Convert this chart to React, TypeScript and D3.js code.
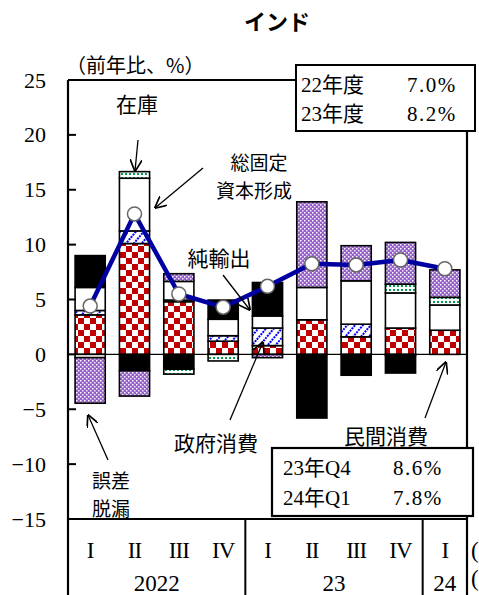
import React from "react";
import * as d3 from "d3";

const categories = ["2022Q1", "2022Q2", "2022Q3", "2022Q4", "2023Q1", "2023Q2", "2023Q3", "2023Q4", "2024Q1"];
const quarterLabels = ["I", "II", "III", "IV", "I", "II", "III", "IV", "I"];
const yearLabels = ["2022", "23", "24"];
const yearSpans = [4, 4, 1];
const yTicks = [25, 20, 15, 10, 5, 0, -5, -10, -15];

// contributions (% pt)
const privateCons = [3.6, 10.1, 4.8, 1.2, 0.8, 3.15, 1.6, 2.4, 2.2];
const govCons = [0.4, 1.15, 0.15, 0.5, 1.6, 0.0, 1.15, -0.1, 0.0];
const gfcf = [2.1, 4.8, 1.7, 1.5, 1.1, 2.95, 3.95, 3.2, 2.3];
const inventory = [-0.3, 0.6, -0.45, -0.6, 0, 0, 0, 0.8, 0.7];
const discrepancy = [-4.15, -2.3, 0.7, 0, -0.3, 7.8, 3.2, 3.8, 2.5];
const netExports = [2.9, -1.5, -1.35, 1.75, 3.05, -5.8, -1.9, -1.6, 0];
const gdp = [4.4, 12.8, 5.5, 4.3, 6.2, 8.25, 8.15, 8.6, 7.8];

const seriesNames = ["民間消費", "政府消費", "総固定資本形成", "在庫", "誤差脱漏", "純輸出"];
const seriesValues = [privateCons, govCons, gfcf, inventory, discrepancy, netExports];
const seriesFills = ["url(#pCheck)", "url(#pHatch)", "#ffffff", "url(#pDots)", "url(#pPurple)", "#000000"];
const posOrder = [0, 1, 2, 3, 4, 5];
const negOrder = [0, 1, 2, 5, 3, 4];

const W = 479, H = 595;
const L = 68, R = 467, T = 80, B = 519;

const serif = "'Liberation Serif', 'Noto Sans CJK JP', serif";
const jp = "'Noto Sans CJK JP', sans-serif";

export default function App() {
  const x = d3.scaleBand<string>().domain(categories).range([L, R]).paddingInner(0.32).paddingOuter(0.16);
  const y = d3.scaleLinear().domain([-15, 25]).range([B, T]);
  const bw = x.bandwidth();

  const segs: { key: string; x: number; y0: number; y1: number; fill: string }[] = [];
  categories.forEach((c, i) => {
    let pos = 0;
    posOrder.forEach((s) => {
      const v = seriesValues[s][i];
      if (v > 0) {
        segs.push({ key: `${c}-${s}`, x: x(c)!, y0: pos, y1: pos + v, fill: seriesFills[s] });
        pos += v;
      }
    });
    let neg = 0;
    negOrder.forEach((s) => {
      const v = seriesValues[s][i];
      if (v < 0) {
        segs.push({ key: `${c}-${s}`, x: x(c)!, y0: neg, y1: neg + v, fill: seriesFills[s] });
        neg += v;
      }
    });
  });

  const line = d3
    .line<number>()
    .x((_, i) => x(categories[i])! + bw / 2)
    .y((d) => y(d));

  const step = x.step();
  let acc = 0;
  const yearBounds = yearSpans.map((n) => {
    const s = acc;
    acc += n;
    return [L + s * step, L + acc * step];
  });

  const arrows = [
    [138, 140, 135, 171],
    [203, 168, 155, 208],
    [223, 275, 250, 310],
    [230, 420, 263, 342],
    [108, 460, 88, 415],
    [425, 418, 446, 362],
  ];

  return (
    <div style={{ position: "absolute", left: 0, top: 0 }}>
      <svg width={W} height={H} style={{ display: "block", background: "#fff" }}>
        <defs>
          <pattern id="pCheck" width="12" height="12" patternUnits="userSpaceOnUse">
            <rect width="12" height="12" fill="#fff" />
            <rect x="0" y="0" width="6" height="6" fill="#c00000" />
            <rect x="6" y="6" width="6" height="6" fill="#c00000" />
          </pattern>
          <pattern id="pHatch" width="6" height="6" patternUnits="userSpaceOnUse" patternTransform="rotate(40)">
            <rect width="6" height="6" fill="#fff" />
            <line x1="1" y1="0" x2="1" y2="6" stroke="#0000ff" strokeWidth="2" strokeDasharray="2 1" />
          </pattern>
          <pattern id="pDots" width="4" height="4" patternUnits="userSpaceOnUse">
            <rect width="4" height="4" fill="#fff" />
            <rect x="1" y="1" width="2" height="2" fill="#00a050" />
          </pattern>
          <pattern id="pPurple" width="4" height="4" patternUnits="userSpaceOnUse">
            <rect width="4" height="4" fill="#9460c8" />
            <rect x="0" y="0" width="1.5" height="1.5" fill="#fff" />
            <rect x="2" y="2" width="1.5" height="1.5" fill="#f2e8fa" />
          </pattern>
          <marker id="arr" viewBox="0 0 10 10" refX="9.5" refY="5" markerWidth="12" markerHeight="12" markerUnits="userSpaceOnUse" orient="auto">
            <path d="M0,0 L10,5 L0,10" fill="none" stroke="#000" strokeWidth="1.4" />
          </marker>
        </defs>

        {/* title */}
        <text x={277} y={20} textAnchor="middle" dominantBaseline="central" fontFamily={jp} fontWeight="bold" fontSize={22}>
          インド
        </text>
        <text x={66} y={64} dominantBaseline="central" fontFamily={jp} fontSize={20}>
          （前年比、%）
        </text>

        {/* y tick labels */}
        {yTicks.map((t) => (
          <text key={t} x={46} y={y(t)} textAnchor="end" dominantBaseline="central" fontFamily={serif} fontSize={22}>
            {t < 0 ? `−${-t}` : `${t}`}
          </text>
        ))}

        {/* zero line */}
        <line x1={L} x2={R} y1={y(0)} y2={y(0)} stroke="#000" strokeWidth={1.2} />

        {/* bars */}
        {segs.map((s) => (
          <rect
            key={s.key}
            x={s.x}
            y={Math.min(y(s.y0), y(s.y1))}
            width={bw}
            height={Math.abs(y(s.y1) - y(s.y0))}
            fill={s.fill}
            stroke="#000"
            strokeWidth={1.6}
          />
        ))}

        {/* GDP line */}
        <path d={line(gdp) || ""} fill="none" stroke="#0000a0" strokeWidth={4.5} strokeLinejoin="round" />
        {gdp.map((v, i) => (
          <circle key={i} cx={x(categories[i])! + bw / 2} cy={y(v)} r={7} fill="#fff" stroke="#666" strokeWidth={1.5} />
        ))}

        {/* frame */}
        <line x1={L} x2={L} y1={T} y2={H} stroke="#000" strokeWidth={2.2} />
        <line x1={R} x2={R} y1={T} y2={H} stroke="#000" strokeWidth={2.2} />
        <line x1={L} x2={R} y1={T} y2={T} stroke="#000" strokeWidth={2.2} />
        <line x1={L} x2={R} y1={B} y2={B} stroke="#000" strokeWidth={2.2} />
        {yTicks.map((t) => (
          <line key={t} x1={L} x2={L + 8} y1={y(t)} y2={y(t)} stroke="#000" strokeWidth={2} />
        ))}

        {/* x axis table */}
        {categories.map((c, i) => (
          <text key={c} x={x(c)! + bw / 2} y={550} textAnchor="middle" dominantBaseline="central" fontFamily={serif} fontSize={23} letterSpacing={-1}>
            {quarterLabels[i]}
          </text>
        ))}
        {yearBounds.map(([a, b], i) => (
          <g key={i}>
            {i > 0 && <line x1={a} x2={a} y1={B} y2={H} stroke="#000" strokeWidth={2} />}
            <text x={(a + b) / 2} y={583} textAnchor="middle" dominantBaseline="central" fontFamily={serif} fontSize={23}>
              {yearLabels[i]}
            </text>
          </g>
        ))}
        <text x={471} y={550} dominantBaseline="central" fontFamily={serif} fontSize={23}>(</text>
        <text x={471} y={578} dominantBaseline="central" fontFamily={serif} fontSize={23}>(</text>

        {/* annual box */}
        <rect x={296} y={65} width={179} height={66} fill="#fff" stroke="#000" strokeWidth={2} />
        <text x={301} y={85} dominantBaseline="central" fontFamily={serif} fontSize={21}>22年度</text>
        <text x={407} y={85} dominantBaseline="central" fontFamily={serif} fontSize={21} letterSpacing={1.5}>7.0%</text>
        <text x={301} y={114} dominantBaseline="central" fontFamily={serif} fontSize={21}>23年度</text>
        <text x={407} y={114} dominantBaseline="central" fontFamily={serif} fontSize={21} letterSpacing={1.5}>8.2%</text>

        {/* quarterly box */}
        <rect x={272} y={448} width={201} height={68} fill="#fff" stroke="#000" strokeWidth={2.2} />
        <text x={283} y={468} dominantBaseline="central" fontFamily={serif} fontSize={21}>23年Q4</text>
        <text x={393} y={468} dominantBaseline="central" fontFamily={serif} fontSize={21} letterSpacing={1.5}>8.6%</text>
        <text x={283} y={498} dominantBaseline="central" fontFamily={serif} fontSize={21}>24年Q1</text>
        <text x={393} y={498} dominantBaseline="central" fontFamily={serif} fontSize={21} letterSpacing={1.5}>7.8%</text>

        {/* annotations */}
        {arrows.map(([x1, y1, x2, y2], i) => (
          <line key={i} x1={x1} y1={y1} x2={x2} y2={y2} stroke="#000" strokeWidth={1.3} markerEnd="url(#arr)" />
        ))}
        <text x={137} y={103} textAnchor="middle" dominantBaseline="central" fontFamily={jp} fontSize={21}>在庫</text>
        <text x={259} y={161} textAnchor="middle" dominantBaseline="central" fontFamily={jp} fontSize={19}>総固定</text>
        <text x={254} y={189} textAnchor="middle" dominantBaseline="central" fontFamily={jp} fontSize={19}>資本形成</text>
        <text x={219} y={257} textAnchor="middle" dominantBaseline="central" fontFamily={jp} fontSize={21}>純輸出</text>
        <text x={216} y={442} textAnchor="middle" dominantBaseline="central" fontFamily={jp} fontSize={21}>政府消費</text>
        <text x={111} y={479} textAnchor="middle" dominantBaseline="central" fontFamily={jp} fontSize={19}>誤差</text>
        <text x={111} y={507} textAnchor="middle" dominantBaseline="central" fontFamily={jp} fontSize={19}>脱漏</text>
        <text x={386} y={435} textAnchor="middle" dominantBaseline="central" fontFamily={jp} fontSize={21}>民間消費</text>
      </svg>
    </div>
  );
}
